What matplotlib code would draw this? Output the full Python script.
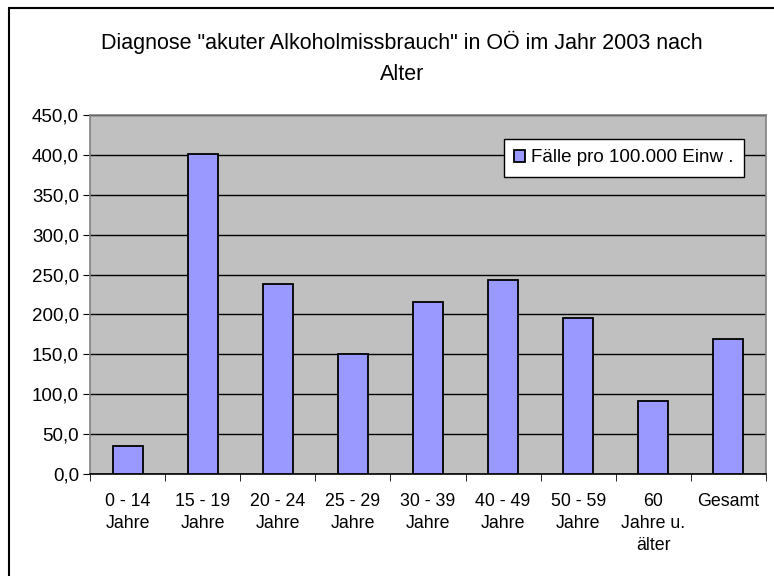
import matplotlib
matplotlib.use("Agg")
import matplotlib.pyplot as plt
from matplotlib.patches import Rectangle
from matplotlib.ticker import FuncFormatter, FixedLocator
import numpy as np

plt.rcParams['font.family'] = ['Liberation Sans', 'DejaVu Sans']

categories = ["0 - 14\nJahre", "15 - 19\nJahre", "20 - 24\nJahre", "25 - 29\nJahre",
              "30 - 39\nJahre", "40 - 49\nJahre", "50 - 59\nJahre", "60\nJahre u.\nälter",
              "Gesamt"]
values = [35, 401, 238, 151, 215, 243, 195, 91, 169]
series_name = "Fälle pro 100.000 Einw ."
title = 'Diagnose "akuter Alkoholmissbrauch" in OÖ im Jahr 2003 nach\nAlter'

fig = plt.figure(figsize=(7.74, 5.76), dpi=100)

# outer chart frame (runs off right/bottom edge like the original)
fig.patches.append(Rectangle((9 / 774, -0.05), 1.0, 1 - 8 / 576 + 0.05,
                             transform=fig.transFigure, fill=False,
                             edgecolor="black", linewidth=1.5))

ax = fig.add_axes([90 / 774, 102 / 576, 676 / 774, 359 / 576])
ax.set_facecolor("#C0C0C0")

x = np.arange(len(categories))
ax.bar(x, values, width=0.4, color="#9999FF", edgecolor="black", linewidth=1.3,
       label=series_name, zorder=3)

ax.set_xlim(-0.5, len(categories) - 0.5)
ax.set_ylim(0, 450)
ax.set_yticks(np.arange(0, 451, 50))
ax.yaxis.set_major_formatter(FuncFormatter(lambda v, p: f"{v:.1f}".replace(".", ",")))
ax.grid(axis="y", color="black", linewidth=1.0, zorder=1)

ax.set_xticks(x)
ax.set_xticklabels(categories, fontsize=12.8, linespacing=1.35, va="top")
ax.tick_params(axis="x", length=0, pad=14)
ax.xaxis.set_minor_locator(FixedLocator(np.arange(-0.5, len(categories), 1)))
ax.tick_params(axis="x", which="minor", length=5, color="black", direction="out")
ax.tick_params(axis="y", length=5, color="black", labelsize=13.5, pad=3)

for s in ["top", "right"]:
    ax.spines[s].set_color("#808080")
ax.spines["left"].set_color("#808080")
ax.spines["bottom"].set_color("black")
for s in ax.spines.values():
    s.set_linewidth(1.2)

fig.text(402 / 774, 1 - 58 / 576, title, ha="center", va="center", fontsize=15.5,
         linespacing=1.6)

leg = ax.legend(loc="upper right", bbox_to_anchor=(0.967, 0.933), fontsize=13.5,
                frameon=True, fancybox=False, framealpha=1, edgecolor="black",
                handlelength=0.6, handleheight=0.6, handletextpad=0.3,
                borderpad=0.55, borderaxespad=0)
leg.get_frame().set_linewidth(1.0)

fig.savefig("out.png", dpi=100, facecolor="white")
